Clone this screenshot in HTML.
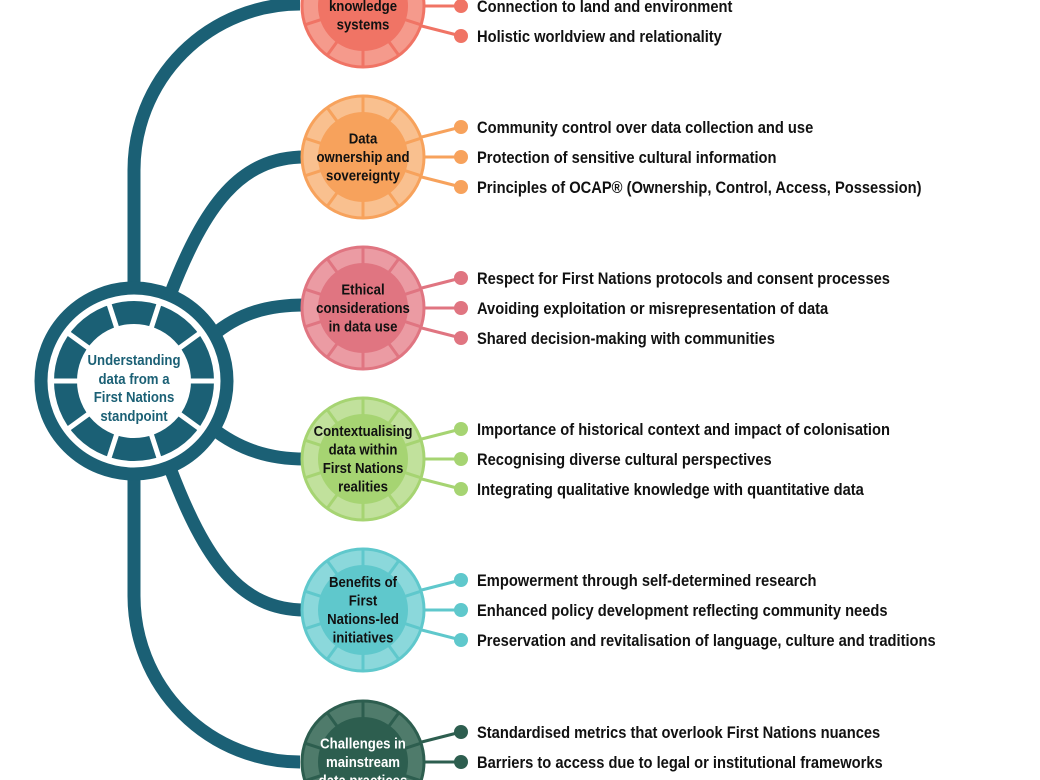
<!DOCTYPE html>
<html><head><meta charset="utf-8"><style>
html,body{margin:0;padding:0;background:#fff;overflow:hidden;width:1040px;height:780px;}
svg{display:block;}
text{font-family:"Liberation Sans",sans-serif;font-weight:bold;}
.b{font-size:17px;fill:#111;}
.n{font-size:15px;fill:#111;text-anchor:middle;}
.c{font-size:15px;fill:#1b6075;text-anchor:middle;}
</style></head><body>
<svg width="1040" height="780" viewBox="0 0 1040 780" xmlns="http://www.w3.org/2000/svg">
<g fill="none" stroke="#1b6075" stroke-width="13">
<path d="M134,290 V170 A166,166 0 0 1 300,4"/>
<path d="M170,295 C205,205 240,157 305,157"/>
<path d="M212,336 C240,312 270,305 305,305"/>
<path d="M212,428 C240,450 270,459 305,459"/>
<path d="M170,468 C205,560 240,610 305,610"/>
<path d="M134,475 V596 A166,166 0 0 0 300,762"/>
</g>
<circle cx="134" cy="381" r="93" fill="#fff" stroke="#1b6075" stroke-width="13"/>
<circle cx="134" cy="381" r="68.5" fill="none" stroke="#1b6075" stroke-width="23"/>
<g stroke="#fff" stroke-width="5" id="cs"></g>
<g transform="translate(134,0) scale(0.88,1)">
<text class="c" x="0" y="365">Understanding</text>
<text class="c" x="0" y="384">data from a</text>
<text class="c" x="0" y="402">First Nations</text>
<text class="c" x="0" y="421">standpoint</text>
</g>
<g id="nodes"></g>
</svg>
<script>
var NS="http://www.w3.org/2000/svg";
function el(p,t,a,txt){var e=document.createElementNS(NS,t);for(var k in a)e.setAttribute(k,a[k]);if(txt!=null)e.textContent=txt;p.appendChild(e);return e;}
var cs=document.getElementById('cs');
for(var i=0;i<10;i++){var a=(i*36)*Math.PI/180;el(cs,'line',{x1:134+55*Math.cos(a),y1:381+55*Math.sin(a),x2:134+82*Math.cos(a),y2:381+82*Math.sin(a)});}
var g=document.getElementById('nodes');
var data=[
[6,"#f07465","#f59a8c","#111",["First Nations","knowledge","systems"],["Indigenous ways of knowing","Connection to land and environment","Holistic worldview and relationality"]],
[157,"#f7a25c","#f9c08f","#111",["Data","ownership and","sovereignty"],["Community control over data collection and use","Protection of sensitive cultural information","Principles of OCAP® (Ownership, Control, Access, Possession)"]],
[308,"#e07581","#eb9ba3","#111",["Ethical","considerations","in data use"],["Respect for First Nations protocols and consent processes","Avoiding exploitation or misrepresentation of data","Shared decision-making with communities"]],
[459,"#a6d472","#c1e19c","#111",["Contextualising","data within","First Nations","realities"],["Importance of historical context and impact of colonisation","Recognising diverse cultural perspectives","Integrating qualitative knowledge with quantitative data"]],
[610,"#5fc8cc","#8bd8db","#111",["Benefits of","First","Nations-led","initiatives"],["Empowerment through self-determined research","Enhanced policy development reflecting community needs","Preservation and revitalisation of language, culture and traditions"]],
[762,"#2d5e4f","#4f7b6b","#fff",["Challenges in","mainstream","data practices"],["Standardised metrics that overlook First Nations nuances","Barriers to access due to legal or institutional frameworks","Lack of culturally appropriate data"]]
];
data.forEach(function(d){
 var cy=d[0],cx=363,col=d[1],lt=d[2];
 for(var j=0;j<3;j++){var by=cy-30+30*j;
  var sy=cy+(j-1)*20,sx=cx+Math.sqrt(62*62-(j-1)*20*(j-1)*20);
  el(g,'line',{x1:sx,y1:sy,x2:461,y2:by,stroke:col,'stroke-width':3});
  el(g,'circle',{cx:461,cy:by,r:7,fill:col});
  var tg=el(g,'g',{transform:'translate(477,'+(by+6)+') scale(0.865,1)'});
  el(tg,'text',{x:0,y:0,'class':'b'},d[5][j]);}
 el(g,'circle',{cx:cx,cy:cy,r:61,fill:lt,stroke:col,'stroke-width':3});
 for(var i=0;i<10;i++){var a=(i*36+18)*Math.PI/180;el(g,'line',{x1:cx+44*Math.cos(a),y1:cy+44*Math.sin(a),x2:cx+61*Math.cos(a),y2:cy+61*Math.sin(a),stroke:col,'stroke-width':3});}
 el(g,'circle',{cx:cx,cy:cy,r:45,fill:col});
 var L=d[4],lh=18.5,y0=cy-(L.length-1)*lh/2+5;
 var ng=el(g,'g',{transform:'translate('+cx+',0) scale(0.88,1)'});
 L.forEach(function(t,k){var e=el(ng,'text',{x:0,y:y0+k*lh,'class':'n'},t);e.style.fill=d[3];});
});
</script>
</body></html>
